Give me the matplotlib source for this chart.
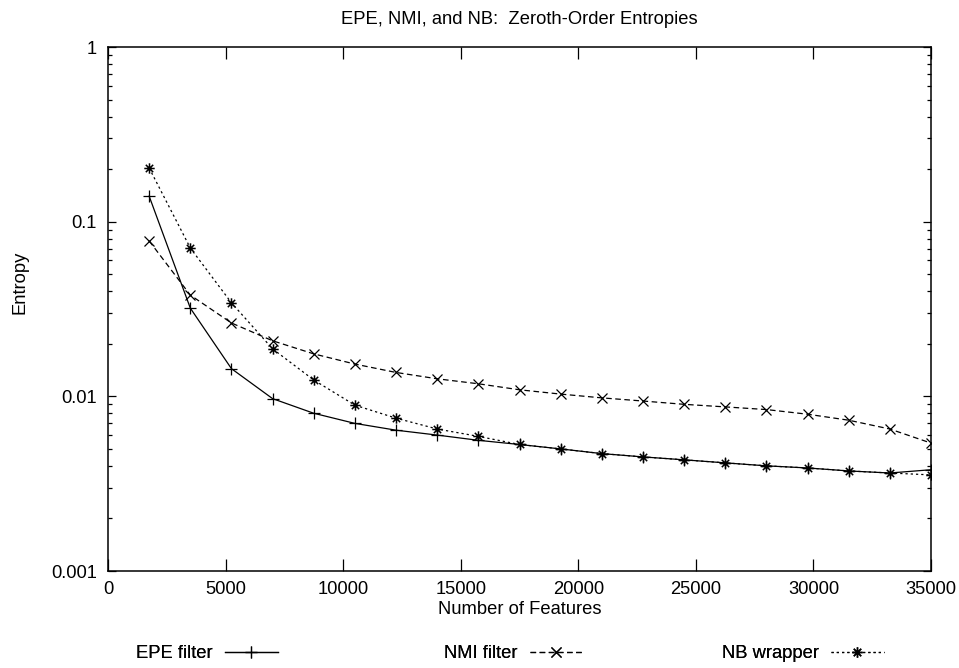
import matplotlib
matplotlib.use("Agg")
import matplotlib.pyplot as plt
from matplotlib.path import Path
import numpy as np

plt.rcParams['font.family'] = ['Liberation Sans', 'DejaVu Sans']

features = [1750, 3500, 5250, 7000, 8750, 10500, 12250, 14000, 15750, 17500,
            19250, 21000, 22750, 24500, 26250, 28000, 29750, 31500, 33250, 35000]
epe_filter = [0.140, 0.032, 0.0144, 0.0097, 0.0080, 0.0070, 0.0064, 0.0060, 0.0056, 0.0053,
              0.0050, 0.0047, 0.0045, 0.00433, 0.00416, 0.0040, 0.00389, 0.00374, 0.00364, 0.0038]
nmi_filter = [0.0776, 0.038, 0.0263, 0.0208, 0.0175, 0.0153, 0.0137, 0.0126, 0.0118, 0.0109,
              0.0103, 0.0098, 0.0094, 0.0090, 0.0087, 0.0084, 0.0079, 0.0073, 0.0065, 0.0054]
nb_wrapper = [0.203, 0.0707, 0.0343, 0.0187, 0.0124, 0.0089, 0.0075, 0.0065, 0.0059, 0.0053,
              0.0050, 0.0047, 0.0045, 0.00433, 0.00416, 0.0040, 0.00389, 0.00374, 0.00364, 0.00355]

series_labels = ["EPE filter", "NMI filter", "NB wrapper"]
title = "EPE, NMI, and NB:  Zeroth-Order Entropies"
x_ticks = [0, 5000, 10000, 15000, 20000, 25000, 30000, 35000]
y_ticks = [0.001, 0.01, 0.1, 1]
y_tick_labels = ["0.001", "0.01", "0.1", "1"]

W, H = 959, 668
fig = plt.figure(figsize=(W / 100, H / 100), dpi=100)
L, R, T, B = 108, 931, 47, 571
ax = fig.add_axes([L / W, 1 - B / H, (R - L) / W, (B - T) / H])

# gnuplot style asterisk marker (+ and x combined)
s = 0.7071
star_path = Path(
    [(-1, 0), (1, 0), (0, -1), (0, 1), (-s, -s), (s, s), (-s, s), (s, -s)],
    [Path.MOVETO, Path.LINETO] * 4)

lw = 0.9
l1, = ax.plot(features, epe_filter, color='black', lw=lw, marker='+', ms=8.5,
              mew=0.9, label=series_labels[0])
l2, = ax.plot(features, nmi_filter, color='black', lw=lw, marker='x', ms=6.5,
              mew=0.9, dashes=(4.5, 2.8), label=series_labels[1])
l3, = ax.plot(features, nb_wrapper, color='black', lw=lw, marker=star_path, ms=7.5,
              mew=1.1, mfc='none', dashes=(1.8, 2.4), label=series_labels[2])

ax.set_yscale('log')
ax.set_xlim(0, 35000)
ax.set_ylim(0.001, 1)
ax.set_xticks(x_ticks)
ax.set_xticklabels([str(v) for v in x_ticks])
ax.set_yticks(y_ticks)
ax.set_yticklabels(y_tick_labels)
ax.yaxis.set_minor_locator(matplotlib.ticker.LogLocator(base=10, subs=np.arange(2, 10)))
ax.yaxis.set_minor_formatter(matplotlib.ticker.NullFormatter())

fs = 13.2
ax.tick_params(axis='x', which='major', direction='in', length=8.5, width=0.9,
               top=True, bottom=True, labelsize=fs, pad=7.5)
ax.tick_params(axis='y', which='major', direction='in', length=5.8, width=0.9,
               left=True, right=True, labelsize=fs, pad=8)
ax.tick_params(axis='y', which='minor', direction='in', length=3.0, width=0.9,
               left=True, right=True)
for sp in ax.spines.values():
    sp.set_linewidth(1.1)

ax.set_xlabel("Number of Features", fontsize=fs)
ax.xaxis.label.set_va('center')
ax.xaxis.set_label_coords(0.5, -(610 - B) / (B - T))
ax.set_ylabel("Entropy", fontsize=fs)
ax.yaxis.label.set_va('center')
ax.yaxis.set_label_coords(-(L - 20) / (R - L), (B - 282) / (B - T))

fig.text(519 / W, 1 - 20 / H, title, ha='center', va='center', fontsize=fs)

# gnuplot-style legends along the bottom
leg_ends = [278, 583, 884]
for line, xe in zip([l1, l2, l3], leg_ends):
    lg = fig.legend(handles=[line], loc='center right',
                    bbox_to_anchor=(xe / W, 1 - 654 / H), bbox_transform=fig.transFigure,
                    markerfirst=False, frameon=False, fontsize=fs, handlelength=2.9,
                    handletextpad=0.65, borderpad=0, borderaxespad=0, numpoints=1)
    fig.add_artist(lg)

fig.savefig("out.png", dpi=100)
